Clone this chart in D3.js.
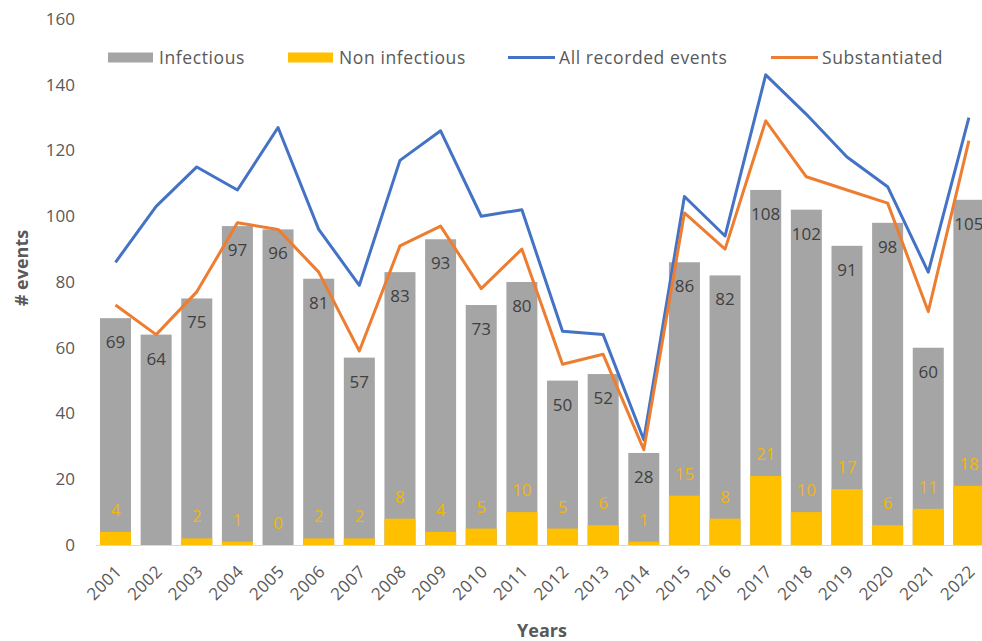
<!DOCTYPE html>
<html>
<head>
<meta charset="utf-8">
<script src="https://cdn.jsdelivr.net/npm/d3@7"></script>
<style>
  html, body { margin: 0; padding: 0; background: #fff; }
  svg { display: block; font-family: "Open Sans", "Noto Sans", sans-serif; }
</style>
</head>
<body>
<svg id="chart" width="982" height="641"></svg>
<script>
const years = ["2001","2002","2003","2004","2005","2006","2007","2008","2009","2010","2011","2012","2013","2014","2015","2016","2017","2018","2019","2020","2021","2022"];
const infectious = [69,64,75,97,96,81,57,83,93,73,80,50,52,28,86,82,108,102,91,98,60,105];
const nonInfectious = [4,null,2,1,0,2,2,8,4,5,10,5,6,1,15,8,21,10,17,6,11,18];
const allRecorded = [86,103,115,108,127,96,79,117,126,100,102,65,64,32,106,94,143,131,118,109,83,130];
const substantiated = [73,64,77,98,96,83,59,91,97,78,90,55,58,29,101,90,129,112,108,104,71,123];
const yTicks = [0,20,40,60,80,100,120,140,160];
const legendItems = [
  {label: "Infectious", kind: "rect", color: "#A5A5A5"},
  {label: "Non infectious", kind: "rect", color: "#FFC000"},
  {label: "All recorded events", kind: "line", color: "#4472C4"},
  {label: "Substantiated", kind: "line", color: "#ED7D31"}
];

const svg = d3.select("#chart");
const W = 982, H = 641;

const x = d3.scaleBand().domain(years).range([90, 994.4]).paddingInner(0.237).paddingOuter(0.246);
const y = d3.scaleLinear().domain([0, 160]).range([545, 19]);

const textCol = "#595959";
const fs = 17;

// y tick labels
svg.append("g").selectAll("text").data(yTicks).join("text")
  .attr("x", 75).attr("y", d => y(d)).attr("dy", "0.35em")
  .attr("text-anchor", "end").attr("font-size", fs).attr("fill", textCol)
  .text(d => d);

// bars
const gb = svg.append("g");
gb.selectAll("rect.inf").data(years).join("rect").attr("class", "inf")
  .attr("x", d => x(d)).attr("width", x.bandwidth())
  .attr("y", (d,i) => y(infectious[i])).attr("height", (d,i) => y(0) - y(infectious[i]))
  .attr("fill", "#A5A5A5");
const nonIdx = years.map((d,i) => i).filter(i => nonInfectious[i] !== null);
gb.selectAll("rect.non").data(nonIdx).join("rect").attr("class", "non")
  .attr("x", i => x(years[i])).attr("width", x.bandwidth())
  .attr("y", i => y(nonInfectious[i])).attr("height", i => y(0) - y(nonInfectious[i]))
  .attr("fill", "#FFC000");

// x axis line
svg.append("line").attr("x1", 96).attr("x2", W).attr("y1", y(0) + 0.5).attr("y2", y(0) + 0.5)
  .attr("stroke", "#D9D9D9").attr("stroke-width", 1);

// lines
const cx = d => x(d) + x.bandwidth() / 2;
const lineGen = vals => d3.line().x(d => cx(d)).y((d,i) => y(vals[i]))(years);
svg.append("path").attr("d", lineGen(allRecorded)).attr("fill", "none")
  .attr("stroke", "#4472C4").attr("stroke-width", 3).attr("stroke-linejoin", "round");
svg.append("path").attr("d", lineGen(substantiated)).attr("fill", "none")
  .attr("stroke", "#ED7D31").attr("stroke-width", 3).attr("stroke-linejoin", "round");

// data labels
svg.append("g").selectAll("text").data(years).join("text")
  .attr("x", d => cx(d)).attr("y", (d,i) => y(infectious[i]) + 24).attr("dy", "0.35em")
  .attr("text-anchor", "middle").attr("font-size", fs).attr("fill", "#404040")
  .text((d,i) => infectious[i]);
svg.append("g").selectAll("text").data(nonIdx).join("text")
  .attr("x", i => cx(years[i])).attr("y", i => y(nonInfectious[i]) - 22).attr("dy", "0.35em")
  .attr("text-anchor", "middle").attr("font-size", fs).attr("fill", "#F2B705")
  .text(i => nonInfectious[i]);

// x tick labels
svg.append("g").selectAll("text").data(years).join("text")
  .attr("transform", d => `translate(${cx(d) - 1},${564}) rotate(-45)`)
  .attr("text-anchor", "end").attr("dy", "0.7em").attr("font-size", fs)
  .attr("letter-spacing", 0.5).attr("fill", textCol)
  .text(d => d);

// axis titles
svg.append("text").attr("x", 542).attr("y", 631).attr("dy", "0.35em")
  .attr("text-anchor", "middle").attr("font-size", 18).attr("font-weight", "bold").attr("fill", textCol)
  .text("Years");
svg.append("text").attr("transform", "translate(22,268) rotate(-90)").attr("dy", "0.35em")
  .attr("text-anchor", "middle").attr("font-size", 18).attr("font-weight", "bold").attr("fill", textCol)
  .text("# events");

// legend
const legX = [108, 288, 508, 771];
const lg = svg.append("g");
legendItems.forEach((it, i) => {
  const g = lg.append("g").attr("transform", `translate(${legX[i]},57.5)`);
  if (it.kind === "rect") {
    g.append("rect").attr("x", 0).attr("y", -5).attr("width", 45).attr("height", 10).attr("fill", it.color);
  } else {
    g.append("line").attr("x1", 0).attr("x2", 47).attr("y1", 0).attr("y2", 0)
      .attr("stroke", it.color).attr("stroke-width", 3);
  }
  g.append("text").attr("x", 51).attr("y", 0).attr("dy", "0.35em")
    .attr("font-size", 17.5).attr("letter-spacing", 0.6).attr("fill", textCol).text(it.label);
});
</script>
</body>
</html>
